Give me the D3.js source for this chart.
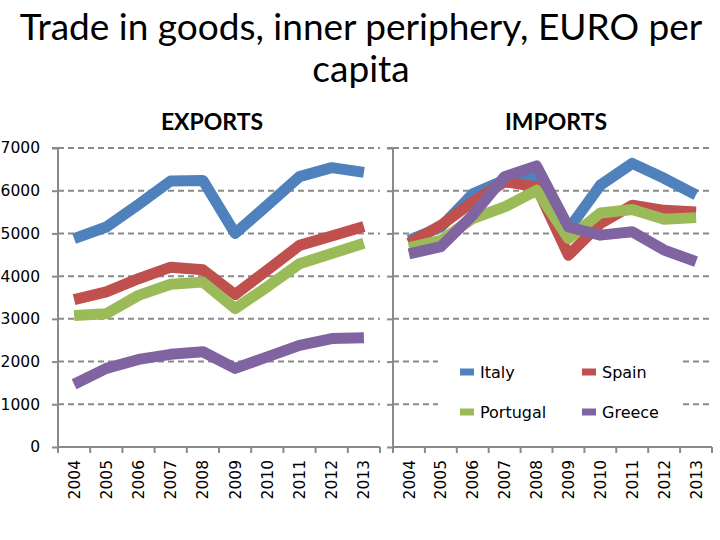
<!DOCTYPE html>
<html><head><meta charset="utf-8">
<script src="https://cdn.jsdelivr.net/npm/d3@7"></script>
<style>body{margin:0;background:#fff}svg{display:block}</style>
</head><body>
<svg id="c" width="720" height="540"></svg>
<script>
const years = ["2004","2005","2006","2007","2008","2009","2010","2011","2012","2013"];
const countries = ["Italy","Spain","Portugal","Greece"];
const colors = ["#4F81BD","#C0504D","#9BBB59","#8064A2"];
const yTicks = [0,1000,2000,3000,4000,5000,6000,7000];
// EXPORTS, EUR per capita
const expItaly    = [4880,5150,5680,6230,6240,5000,5660,6330,6540,6430];
const expSpain    = [3450,3630,3940,4210,4150,3570,4140,4720,4940,5160];
const expPortugal = [3080,3120,3550,3810,3860,3240,3750,4290,4530,4770];
const expGreece   = [1470,1840,2050,2170,2230,1840,2110,2380,2540,2560];
// IMPORTS, EUR per capita
const impItaly    = [4840,5150,5930,6250,6300,5100,6130,6640,6290,5900];
const impSpain    = [4770,5190,5740,6210,6090,4490,5230,5660,5540,5500];
const impPortugal = [4670,4840,5350,5620,6010,4880,5480,5560,5330,5370];
const impGreece   = [4520,4690,5430,6330,6580,5150,4960,5040,4610,4340];

const exportsData = [expItaly, expSpain, expPortugal, expGreece];
const importsData = [impItaly, impSpain, impPortugal, impGreece];

const svg = d3.select("#c");
const y = d3.scaleLinear().domain([0,7000]).range([447,148]);
const tickFont = "'DejaVu Sans', sans-serif";
const gridColor = "#8a8a8a";

function panel(x0, x1) {
  const x = d3.scaleBand().domain(years).range([x0,x1]).padding(0);
  svg.append("g").selectAll("line").data(yTicks.filter(d=>d>0)).join("line")
    .attr("x1", x0).attr("x2", x1)
    .attr("y1", d=>y(d)).attr("y2", d=>y(d))
    .attr("stroke", gridColor).attr("stroke-width", 2)
    .attr("stroke-dasharray", "6,4");
  return {x};
}

const L = panel(58, 380);
const R = panel(393, 712);

// legend background (covers gridlines)
const legX0 = 438, legX1 = 680, legY0 = 338, legY1 = 438;
svg.append("rect").attr("x", legX0).attr("y", legY0)
  .attr("width", legX1-legX0).attr("height", legY1-legY0).attr("fill", "#fff");

function axes(P, x0, x1, showLabels) {
  const ax = d3.axisLeft(y).tickValues(yTicks).tickSize(6).tickPadding(12)
    .tickFormat(showLabels ? d3.format("d") : () => "");
  const ga = svg.append("g").attr("transform", `translate(${x0},0)`).call(ax);
  ga.select(".domain").attr("stroke", gridColor).attr("stroke-width", 2).attr("d", `M-6,${y(7000)}H0V${y(0)}`);
  ga.selectAll(".tick line").attr("stroke", gridColor).attr("stroke-width", 2);
  ga.selectAll(".tick text").attr("font-family", tickFont).attr("font-size", 15.5).attr("fill", "#000");

  const xa = d3.axisBottom(P.x).tickSize(0).tickPadding(0);
  const gx = svg.append("g").attr("transform", `translate(0,${y(0)})`).call(xa);
  gx.select(".domain").attr("stroke", gridColor).attr("stroke-width", 2).attr("d", `M${x0},0H${x1}`);
  gx.selectAll(".tick text")
    .attr("font-family", tickFont).attr("font-size", 15.5).attr("fill", "#000")
    .attr("text-anchor", "end")
    .attr("transform", "rotate(-90)")
    .attr("x", -13).attr("y", 0).attr("dy", "0.36em");
  const bounds = years.map(d => P.x(d)).concat([P.x(years[years.length-1]) + P.x.step()]);
  gx.selectAll("line.bt").data(bounds).join("line")
    .attr("x1", d=>d).attr("x2", d=>d).attr("y1", 0).attr("y2", 6)
    .attr("stroke", gridColor).attr("stroke-width", 2);
}

axes(L, 58, 380, true);
axes(R, 393, 712, false);

function lines(P, data) {
  const line = d3.line().x((d,i)=>P.x(years[i]) + P.x.bandwidth()/2).y(d=>y(d));
  svg.append("g").selectAll("path").data(data).join("path")
    .attr("d", line).attr("fill", "none")
    .attr("stroke", (d,i)=>colors[i]).attr("stroke-width", 11)
    .attr("stroke-linejoin", "round").attr("stroke-linecap", "butt");
}
lines(L, exportsData);
lines(R, importsData);

// legend
const legPos = [[460,372],[582,372],[460,412],[582,412]];
const lg = svg.append("g");
countries.forEach((c,i)=>{
  lg.append("rect").attr("x", legPos[i][0]).attr("y", legPos[i][1]-3.5)
    .attr("width", 14).attr("height", 7).attr("fill", colors[i]);
  lg.append("text").attr("x", legPos[i][0]+20).attr("y", legPos[i][1]).attr("dy","0.36em")
    .attr("font-family", tickFont).attr("font-size", 16).attr("fill","#000").text(c);
});

// titles
const titleFont = "Lato, 'Open Sans', sans-serif";
const t1 = svg.append("text").attr("x", 361).attr("y", 40).attr("text-anchor","middle")
  .attr("font-family", titleFont).attr("font-size", 36).attr("fill","#000")
  .text("Trade in goods, inner periphery, EURO per");
const w = t1.node().getComputedTextLength();
const fs = 36 * 683 / w;
t1.attr("font-size", fs);
svg.append("text").attr("x", 361).attr("y", 82).attr("text-anchor","middle")
  .attr("font-family", titleFont).attr("font-size", fs).attr("fill","#000").text("capita");

const panelTitles = [["EXPORTS", 212], ["IMPORTS", 556]];
panelTitles.forEach(([t, cx])=>{
  svg.append("text").attr("x", cx).attr("y", 130).attr("text-anchor","middle")
    .attr("font-family", titleFont).attr("font-weight","bold").attr("font-size", 23)
    .attr("fill","#000").text(t);
});
</script>
</body></html>
